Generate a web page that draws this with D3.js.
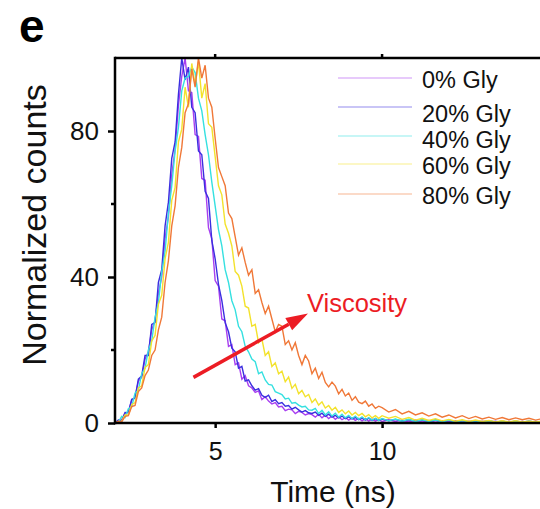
<!DOCTYPE html>
<html>
<head>
<meta charset="utf-8">
<script src="https://cdn.jsdelivr.net/npm/d3@7"></script>
<style>
  body { margin: 0; background: #fff; }
  text { font-family: "Liberation Sans", Arial, Helvetica, sans-serif; }
</style>
</head>
<body>
<div id="chart"></div>
<script>
// time channels (ns): 0.1 ns steps up to 9.9, then 0.2 ns steps up to 15
const times = [...d3.range(20, 100, 1).map(d => d / 10), ...d3.range(100, 151, 2).map(d => d / 10)];

const seriesNames = ["0% Gly", "20% Gly", "40% Gly", "60% Gly", "80% Gly"];
const seriesColors = ["#a83ff0", "#3b2ee0", "#35e0e0", "#f3e22c", "#f07838"];

const gly0 = [
  0, 0.6, 0.8, 2.6, 3.0, 6.2, 7.0, 11.5, 12.5, 17.5,
  19.5, 25.5, 28.0, 35.5, 40.0, 50.5, 56.5, 68.0, 75.0, 87.0,
  95.0, 100, 91.0, 90.5, 79.0, 78.5, 67.0, 66.5, 53.5, 50.5,
  39.0, 37.5, 28.5, 28.0, 21.0, 21.5, 16.0, 16.5, 12.0, 13.0,
  10.2, 9.6, 8.4, 8.8, 6.4, 7.2, 6.0, 5.2, 5.6, 4.4,
  4.6, 3.4, 3.8, 3.6, 2.6, 3.2, 2.9, 2.2, 2.6, 2.3,
  1.6, 2.4, 1.4, 2.2, 1.2, 1.9, 1.0, 1.7, 0.9, 1.5,
  0.8, 1.4, 0.7, 1.3, 0.6, 1.2, 0.5, 1.1, 0.5, 1.0,
  0.4, 0.9, 0.4, 0.8, 0.3, 0.8, 0.3, 0.7, 0.2, 0.6, 0.3, 0.6, 0.2,
  0.5, 0.2, 0.5, 0.2, 0.5, 0.1, 0.4, 0.2, 0.4, 0.1, 0.4, 0.1, 0.3
];
const gly20 = [
  0, 0.8, 0.7, 2.9, 2.8, 6.5, 6.8, 12.0, 12.9, 18.5,
  18.5, 27.0, 27.5, 38.5, 42.0, 54.0, 60.5, 72.5, 77.0, 90.0,
  100, 94.0, 97.5, 86.5, 85.0, 74.5, 73.5, 63.5, 61.5, 50.0,
  45.0, 38.0, 33.5, 27.5, 25.0, 20.5, 19.5, 15.0, 15.5, 11.5,
  11.8, 10.2, 9.0, 9.4, 7.6, 7.0, 7.6, 5.9, 6.4, 5.3,
  5.6, 4.6, 4.8, 3.8, 4.3, 3.6, 3.0, 3.4, 2.8, 2.6,
  3.0, 2.1, 2.7, 1.8, 2.4, 1.6, 2.1, 1.4, 1.9, 1.2,
  1.7, 1.1, 1.5, 0.9, 1.4, 0.8, 1.3, 0.7, 1.2, 0.7,
  1.1, 0.6, 1.0, 0.5, 0.9, 0.5, 0.8, 0.4, 0.8, 0.4, 0.7, 0.3, 0.7,
  0.3, 0.6, 0.3, 0.6, 0.2, 0.5, 0.2, 0.5, 0.2, 0.5, 0.2, 0.4, 0.2
];
const gly40 = [
  0, 0.2, 1.8, 1.5, 3.9, 4.4, 8.2, 9.0, 13.5, 15.0,
  20.0, 22.5, 29.0, 33.0, 41.5, 47.0, 57.5, 65.0, 74.5, 81.0,
  91.0, 94.5, 95.0, 97.5, 96.0, 89.0, 85.5, 79.0, 73.5, 66.0,
  59.5, 53.0, 48.5, 42.0, 38.5, 33.5, 31.0, 26.5, 25.0, 21.0,
  19.5, 17.5, 16.8, 13.5, 14.0, 11.8, 10.6, 10.4, 8.6, 8.2,
  7.8, 6.6, 6.8, 5.4, 5.6, 4.9, 4.4, 4.6, 3.6, 3.5,
  4.0, 2.6, 3.5, 2.2, 3.1, 1.9, 2.7, 1.6, 2.4, 1.4,
  2.1, 1.2, 1.9, 1.0, 1.7, 0.9, 1.5, 0.8, 1.3, 0.7,
  1.2, 0.6, 1.1, 0.5, 1.0, 0.4, 0.9, 0.4, 0.8, 0.3, 0.8, 0.3, 0.7,
  0.3, 0.6, 0.2, 0.6, 0.2, 0.5, 0.2, 0.5, 0.2, 0.5, 0.2, 0.4, 0.2
];
const gly60 = [
  0, 0.4, 0.5, 2.2, 2.2, 5.0, 5.6, 9.6, 10.2, 15.2,
  16.0, 22.5, 24.0, 32.5, 35.0, 45.0, 49.5, 61.0, 64.5, 77.0,
  80.5, 92.0, 86.5, 98.5, 92.5, 99.0, 89.0, 93.0, 82.0, 81.0,
  73.0, 65.0, 62.5, 54.5, 52.0, 48.5, 41.5, 40.5, 37.5, 32.0,
  31.5, 26.5, 27.0, 22.0, 23.0, 18.5, 19.5, 15.5, 16.5, 13.5,
  14.2, 11.3, 12.6, 9.5, 10.6, 8.0, 8.9, 7.2, 7.8, 5.6,
  6.6, 4.9, 5.8, 4.1, 4.8, 3.5, 4.3, 2.9, 3.6, 2.5,
  3.3, 2.2, 2.9, 2.0, 2.6, 1.7, 2.3, 1.4, 2.0, 1.3,
  2.0, 1.3, 1.8, 1.0, 1.5, 0.8, 1.3, 0.7, 1.2, 0.6, 1.0, 0.5, 0.9,
  0.4, 0.8, 0.4, 0.7, 0.3, 0.6, 0.3, 0.6, 0.3, 0.5, 0.3, 0.5, 0.2
];
const gly80 = [
  0, 0.5, 0.3, 1.8, 2.0, 4.5, 4.8, 8.6, 9.6, 13.0,
  14.5, 18.5, 20.0, 25.5, 29.0, 38.5, 44.5, 54.0, 59.5, 70.0,
  75.5, 85.0, 87.5, 97.0, 92.0, 100, 94.5, 98.0, 89.0, 86.5,
  78.0, 70.0, 67.5, 65.0, 57.5, 56.0, 51.0, 46.0, 48.0, 44.0,
  40.5, 42.0, 35.5, 36.5, 33.0, 30.0, 32.0, 28.5, 25.0, 27.0,
  26.5, 21.5, 22.5, 20.0, 22.0, 18.5, 16.0, 18.5, 17.0, 13.5,
  15.0, 12.2, 13.9, 11.1, 9.9, 11.2, 10.1, 8.0, 9.2, 7.4,
  8.2, 6.2, 7.2, 5.7, 5.3, 6.0, 4.6, 5.2, 4.0, 4.6,
  4.2, 3.0, 3.7, 2.5, 3.2, 2.2, 2.8, 1.9, 2.5, 1.6, 2.2, 1.4, 2.0,
  1.2, 1.8, 1.1, 1.6, 1.0, 1.5, 0.9, 1.4, 0.9, 1.3, 0.8, 1.2, 0.8
];
const seriesValues = [gly0, gly20, gly40, gly60, gly80];

const yMajorTicks = [0, 40, 80];
const yMinorTicks = [20, 60];
const xTicks = [5, 10];

// arrow annotation in data units: [time, counts]
const arrowFrom = [4.35, 12.5];
const arrowTo = [7.78, 30.0];
const arrowLabel = "Viscosity";

const width = 540;
const height = 509;
const marginLeft = 115;
const marginTop = 58;
const marginBottom = 86;

const x = d3.scaleLinear().domain([2, 15]).range([marginLeft, 549]);
const y = d3.scaleLinear().domain([0, 100]).range([height - marginBottom, marginTop]);

const svg = d3.select("#chart")
  .append("svg")
  .attr("width", width)
  .attr("height", height)
  .attr("viewBox", [0, 0, width, height]);

svg.append("defs").append("clipPath").attr("id", "plot")
  .append("rect")
  .attr("x", x(2)).attr("y", y(100))
  .attr("width", x(15) - x(2)).attr("height", y(0) - y(100));

// decay curves
const line = d3.line().x((d, i) => x(times[i])).y(d => y(d));
svg.append("g")
  .attr("clip-path", "url(#plot)")
  .selectAll("path")
  .data(seriesValues)
  .join("path")
  .attr("fill", "none")
  .attr("stroke", (d, i) => seriesColors[i])
  .attr("stroke-width", 1.4)
  .attr("d", line);

// frame: top line
svg.append("line")
  .attr("x1", x(2)).attr("x2", width)
  .attr("y1", y(100)).attr("y2", y(100))
  .attr("stroke", "#000").attr("stroke-width", 2.5);

// top ticks
svg.append("g")
  .selectAll("line")
  .data(xTicks)
  .join("line")
  .attr("x1", d => x(d)).attr("x2", d => x(d))
  .attr("y1", y(100)).attr("y2", y(100) - 4)
  .attr("stroke", "#000").attr("stroke-width", 2.5);

// bottom axis
svg.append("g")
  .attr("transform", `translate(0,${y(0)})`)
  .call(d3.axisBottom(x).tickValues(xTicks).tickSize(5).tickPadding(14).tickSizeOuter(0))
  .call(g => g.select(".domain").attr("stroke-width", 2.5).attr("d", `M${x(2) - 1},0H${width}`))
  .call(g => g.selectAll(".tick line").attr("stroke-width", 2.5))
  .call(g => g.selectAll("text").attr("font-size", 25).attr("fill", "#111")
    .style("font-family", "Liberation Sans, Arial, sans-serif"));

// left axis
svg.append("g")
  .attr("transform", `translate(${x(2)},0)`)
  .call(d3.axisLeft(y).tickValues(yMajorTicks).tickSize(7).tickPadding(9).tickSizeOuter(0))
  .call(g => g.select(".domain").attr("stroke-width", 2.5).attr("d", `M0,${y(100) - 1.2}V${y(0) + 1.2}`))
  .call(g => g.selectAll(".tick line").attr("stroke-width", 2.5))
  .call(g => g.selectAll("text").attr("font-size", 26).attr("fill", "#111")
    .style("font-family", "Liberation Sans, Arial, sans-serif"));

svg.append("g")
  .selectAll("line")
  .data(yMinorTicks)
  .join("line")
  .attr("x1", x(2)).attr("x2", x(2) - 4)
  .attr("y1", d => y(d)).attr("y2", d => y(d))
  .attr("stroke", "#000").attr("stroke-width", 2.5);

// axis titles
svg.append("text")
  .attr("x", 333).attr("y", 502)
  .attr("text-anchor", "middle")
  .attr("font-size", 30).attr("fill", "#111")
  .text("Time (ns)");

svg.append("text")
  .attr("transform", "translate(46,225) rotate(-90)")
  .attr("text-anchor", "middle")
  .attr("font-size", 34).attr("fill", "#111")
  .text("Normalized counts");

// panel letter
svg.append("text")
  .attr("x", 19).attr("y", 42)
  .attr("font-size", 46).attr("font-weight", "bold")
  .text("e");

// legend
const legend = svg.append("g")
  .selectAll("g")
  .data(seriesNames)
  .join("g")
  .attr("transform", (d, i) => `translate(338,${[78, 107, 136, 164, 194][i]})`);
legend.append("line")
  .attr("x1", 0).attr("x2", 74)
  .attr("stroke", (d, i) => seriesColors[i])
  .attr("stroke-opacity", 0.55)
  .attr("stroke-width", 1.2);
legend.append("text")
  .attr("x", 84)
  .attr("y", (d, i) => [2, 7, 4, 2, 2][i])
  .attr("dy", "0.35em")
  .attr("font-size", 23.5).attr("fill", "#111")
  .text(d => d);

// viscosity arrow
const [ax1, ay1, ax2, ay2] = [x(arrowFrom[0]), y(arrowFrom[1]), x(arrowTo[0]), y(arrowTo[1])];
const ang = Math.atan2(ay2 - ay1, ax2 - ax1);
const headLen = 22, headW = 7;
const bx = ax2 - headLen * Math.cos(ang), by = ay2 - headLen * Math.sin(ang);
svg.append("line")
  .attr("x1", ax1).attr("y1", ay1)
  .attr("x2", bx).attr("y2", by)
  .attr("stroke", "#ec1c24").attr("stroke-width", 3.5);
svg.append("path")
  .attr("fill", "#ec1c24")
  .attr("d", `M${ax2},${ay2}L${bx + headW * Math.sin(ang)},${by - headW * Math.cos(ang)}L${bx - headW * Math.sin(ang)},${by + headW * Math.cos(ang)}Z`);

svg.append("text")
  .attr("x", x(7.75)).attr("y", y(30.4))
  .attr("font-size", 25.5).attr("fill", "#ec1c24")
  .text(arrowLabel);
</script>
</body>
</html>
